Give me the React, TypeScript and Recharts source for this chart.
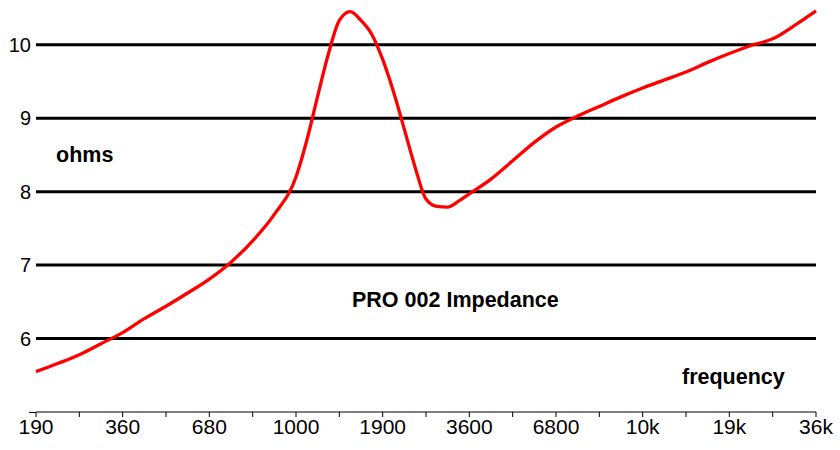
import React from 'react';
import { LineChart, Line, XAxis, YAxis, ReferenceLine } from 'recharts';

// frequency position index (0 = 190 Hz ... 18 = 36 kHz)
const freqIndex = [
  0, 0.5, 1, 1.5, 2, 2.5, 3, 3.5, 4, 4.5, 5, 5.5, 6, 6.25, 6.5, 6.75, 7, 7.25, 7.5, 7.75,
  8, 8.25, 8.5, 8.75, 9, 9.25, 9.5, 9.75, 10, 10.5, 11, 11.5, 12, 12.5, 13, 13.5, 14, 14.5,
  15, 15.5, 16, 16.5, 17, 17.5, 18,
];
const impedance = [
  5.55, 5.66, 5.78, 5.93, 6.08, 6.27, 6.44, 6.62, 6.81, 7.04, 7.33, 7.69, 8.2, 8.7, 9.3, 9.88,
  10.33, 10.45, 10.33, 10.14, 9.8, 9.36, 8.85, 8.33, 7.9, 7.8, 7.79, 7.87, 7.97, 8.17, 8.42,
  8.67, 8.88, 9.03, 9.16, 9.29, 9.41, 9.52, 9.63, 9.76, 9.88, 9.99, 10.08, 10.26, 10.46,
];
const xTickLabels = [
  '190', '', '360', '', '680', '', '1000', '', '1900', '', '3600', '', '6800', '', '10k', '', '19k', '', '36k',
];
const yTicks = [6, 7, 8, 9, 10];

const data = freqIndex.map((x, i) => ({ x, ohm: impedance[i] }));
const xTicks = xTickLabels.map((_, i) => i);

const FONT = '"Liberation Sans", Arial, sans-serif';

export default function App() {
  return (
    <div style={{ position: 'absolute', left: 0, top: 0, width: 840, height: 450, background: '#fff' }}>
      <LineChart width={840} height={450} data={data} margin={{ top: 8, right: 24, bottom: 8, left: 0 }}>
        {yTicks.map((t) => (
          <ReferenceLine key={t} y={t} stroke="#000" strokeWidth={3} />
        ))}
        <XAxis
          type="number"
          dataKey="x"
          domain={[0, 18]}
          ticks={xTicks}
          interval={0}
          height={30}
          tickSize={5}
          tickMargin={2}
          axisLine={{ stroke: '#000', strokeWidth: 1 }}
          tickLine={{ stroke: '#000', strokeWidth: 1 }}
          tick={{ fill: '#000', fontSize: 21, fontFamily: FONT }}
          tickFormatter={(v: number) => xTickLabels[v] ?? ''}
        />
        <YAxis
          type="number"
          domain={[5, 10.5]}
          ticks={yTicks}
          width={36}
          axisLine={false}
          tickLine={false}
          tickSize={3}
          tickMargin={2}
          tick={{ fill: '#000', fontSize: 20, fontFamily: FONT }}
        />
        <Line
          type="monotone"
          dataKey="ohm"
          stroke="#ff0000"
          strokeWidth={3.3}
          dot={false}
          isAnimationActive={false}
        />
      </LineChart>
      <svg
        width={840}
        height={450}
        style={{ position: 'absolute', left: 0, top: 0, pointerEvents: 'none' }}
      >
        <g fontFamily={FONT} fontWeight="bold" fontSize={21.5} fill="#000">
          <text x={56} y={162}>ohms</text>
          <text x={352} y={307}>PRO 002 Impedance</text>
          <text x={682} y={384}>frequency</text>
        </g>
        <line x1={29} y1={412.5} x2={36} y2={412.5} stroke="#000" strokeWidth={1} />
      </svg>
    </div>
  );
}
